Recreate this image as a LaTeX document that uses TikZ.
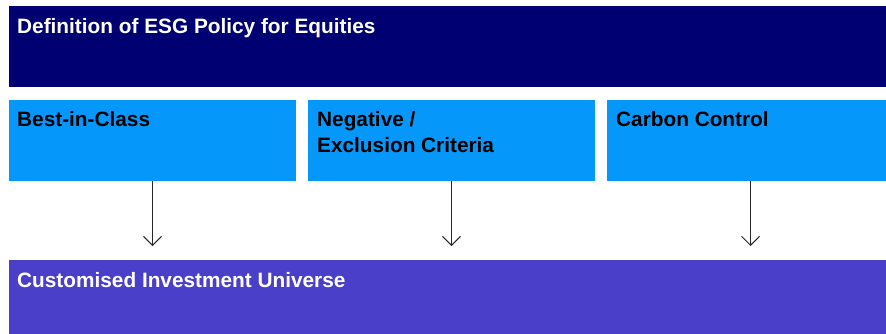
\documentclass[tikz,border=0pt]{standalone}
\usepackage{fontspec}
\setmainfont{Liberation Sans}
\usetikzlibrary{arrows.meta}
\definecolor{navy}{RGB}{0,0,115}
\definecolor{skyb}{RGB}{5,152,250}
\definecolor{purp}{RGB}{74,63,200}
\tikzset{
  box/.style={draw=none,inner sep=0pt,outer sep=0pt,anchor=north west},
  lbl/.style={inner sep=0pt,anchor=base west,align=left,font=\fontsize{20.8}{26}\selectfont\bfseries},
  arr/.style={draw=black!85,line width=0.9pt,-{Straight Barb[length=9pt,width=18pt,line width=0.9pt]}}
}
\begin{document}
\begin{tikzpicture}[x=1pt,y=1pt]
\useasboundingbox (0,0) rectangle (886,-333);
\clip (0,0) rectangle (886,-333);
\node[box,fill=navy,minimum width=890pt,minimum height=81pt] (top) at (9,-6) {};
\node[box,fill=skyb,minimum width=287pt,minimum height=81pt] (b1) at (9,-100) {};
\node[box,fill=skyb,minimum width=287pt,minimum height=81pt] (b2) at (308,-100) {};
\node[box,fill=skyb,minimum width=287pt,minimum height=81pt] (b3) at (607,-100) {};
\node[box,fill=purp,minimum width=890pt,minimum height=80pt] (bot) at (9,-260) {};
\node[lbl,text=white] (ttop) at (17,-33) {Definition of ESG Policy for Equities};
\node[lbl,text=black] (t1) at (17,-126) {Best-in-Class};
\node[lbl,text=black] (t2) at (317,-152) {Negative /\\Exclusion Criteria};
\node[lbl,text=black] (t3) at (616,-126) {Carbon Control};
\node[lbl,text=white] (tbot) at (17,-287) {Customised Investment Universe};
\coordinate (e1) at (b1.south |- 0,-246);
\coordinate (e2) at (b2.south |- 0,-246);
\coordinate (e3) at (b3.south |- 0,-246);
\draw[arr] (b1.south) -- (e1);
\draw[arr] (b2.south) -- (e2);
\draw[arr] (b3.south) -- (e3);
\end{tikzpicture}
\end{document}
